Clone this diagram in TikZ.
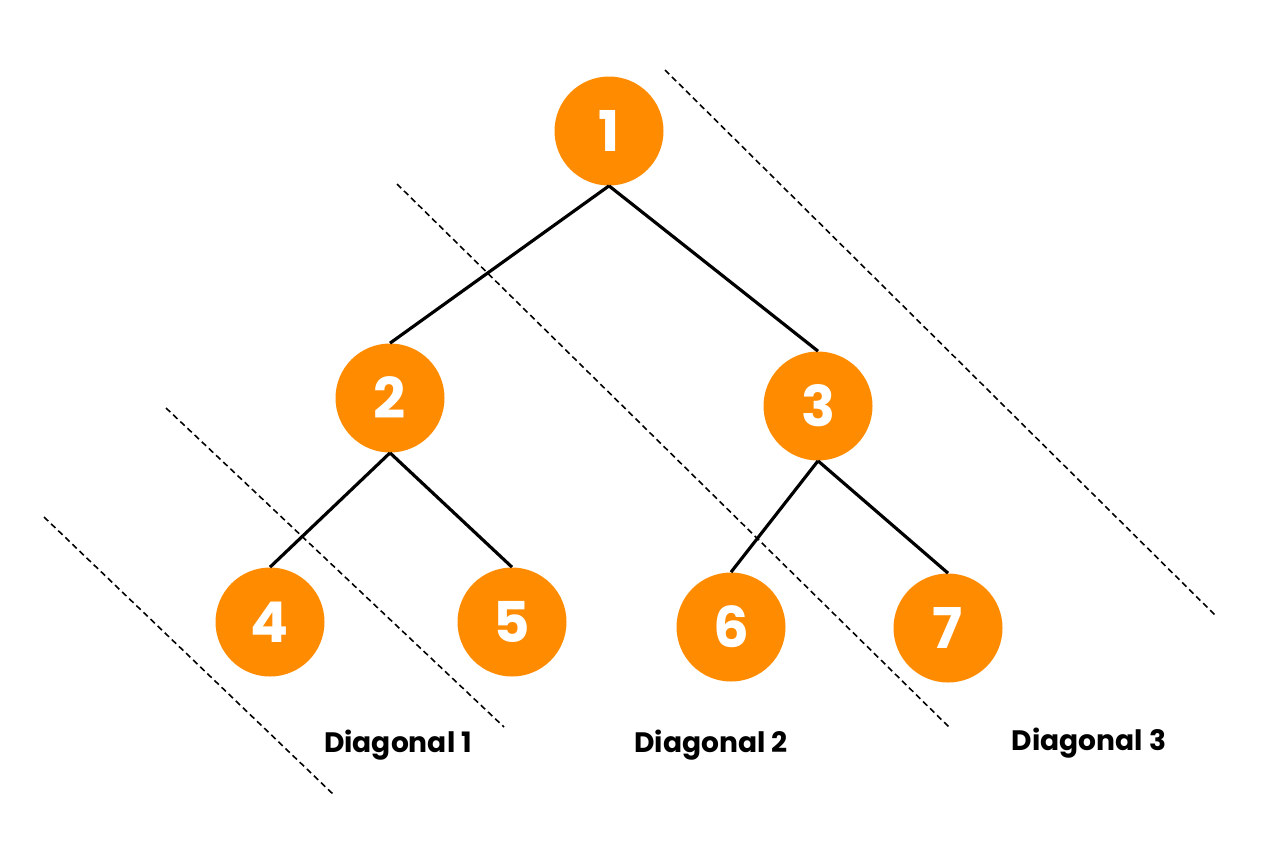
\documentclass[tikz,border=0pt]{standalone}
\usepackage{fontspec}
\setmainfont{Poppins}
\definecolor{orangefill}{HTML}{FF8C00}
\begin{document}
\begin{tikzpicture}[x=0.02cm,y=-0.02cm,
  treenode/.style={circle,fill=orangefill,minimum size=109*0.02cm,inner sep=0pt,text=white,font=\bfseries\fontsize{32}{32}\selectfont},
  edge/.style={line width=1.8pt},
  diag/.style={line width=0.9pt,dash pattern=on 3.4pt off 2.2pt},
  lbl/.style={font=\bfseries\fontsize{16}{17}\selectfont}]
\useasboundingbox (0,0) rectangle (1280,853);
\node[treenode] (n1) at (609,131) {1};
\node[treenode] (n2) at (390,398) {2};
\node[treenode] (n3) at (818,406) {3};
\node[treenode] (n4) at (270,622) {4};
\node[treenode] (n5) at (512,622) {5};
\node[treenode] (n6) at (731,627) {6};
\node[treenode] (n7) at (948,628) {7};
\draw[edge] (n1.south) -- (n2.north);
\draw[edge] (n1.south) -- (n3.north);
\draw[edge] (n2.south) -- (n4.north);
\draw[edge] (n2.south) -- (n5.north);
\draw[edge] (n3.south) -- (n6.north);
\draw[edge] (n3.south) -- (n7.north);
\coordinate (d0a) at (44,517); \coordinate (d0b) at (334,795);
\coordinate (d1a) at (166,408); \coordinate (d1b) at (504,727);
\coordinate (d2a) at (397,184); \coordinate (d2b) at (950,728);
\coordinate (d3a) at (665,70); \coordinate (d3b) at (1216,616);
\draw[diag] (d0a) -- (d0b);
\draw[diag] (d1a) -- (d1b);
\draw[diag] (d2a) -- (d2b);
\draw[diag] (d3a) -- (d3b);
\node[lbl] (l1) at (398,745) {Diagonal 1};
\node[lbl] (l2) at (711,745) {Diagonal 2};
\node[lbl] (l3) at (1089,743) {Diagonal 3};
\end{tikzpicture}
\end{document}
